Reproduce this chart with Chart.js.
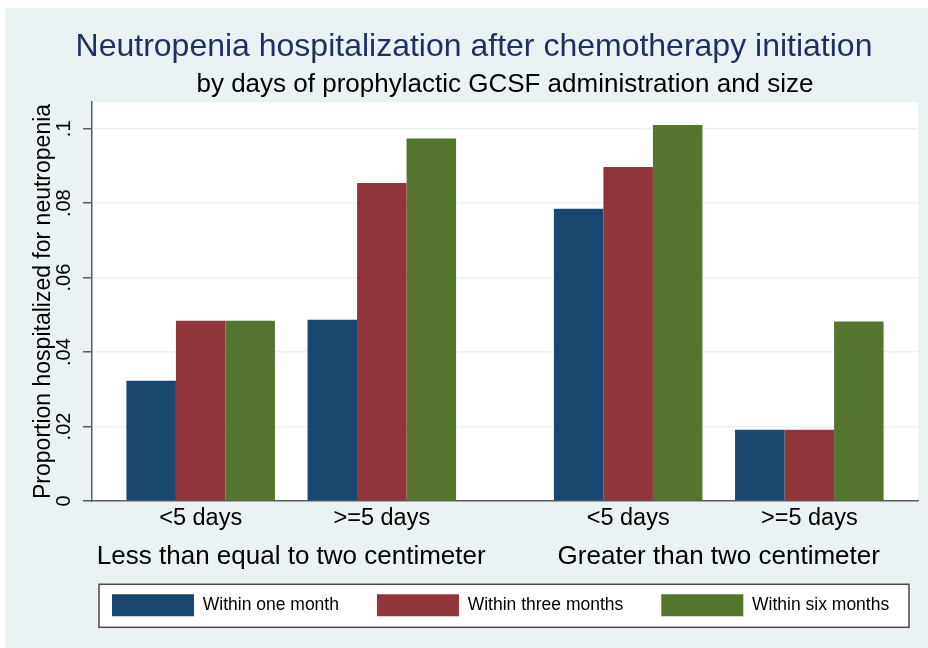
<!DOCTYPE html>
<html lang="en">
<head>
  <meta charset="UTF-8">
  <title>Neutropenia hospitalization after chemotherapy initiation</title>
  <script src="https://cdn.jsdelivr.net/npm/chart.js"></script>
  <style>
    html, body { margin: 0; padding: 0; background: #fff; }
    #wrap { width: 928px; height: 648px; }
  </style>
</head>
<body>
<div id="wrap"><canvas id="grafica" width="928" height="648"></canvas></div>

<script>
// data
const sizeGroups = ["Less than equal to two centimeter", "Greater than two centimeter"];
const dayLabels = ["<5 days", ">=5 days", "<5 days", ">=5 days"];
const seriesNames = ["Within one month", "Within three months", "Within six months"];
const withinOneMonth = [0.0323, 0.0487, 0.0785, 0.0191];
const withinThreeMonths = [0.0484, 0.0854, 0.0897, 0.0191];
const withinSixMonths = [0.0484, 0.0974, 0.1010, 0.0482];
const yTicks = [0, 0.02, 0.04, 0.06, 0.08, 0.1];

// layout: bar groups sit one unit apart, the two size groups are split by a wider gap
const SIZE_GAP = 1.36;
const SIDE = 0.6;
const xPos = dayLabels.map((_, i) => 1 + i + (i >= 2 ? SIZE_GAP - 1 : 0));
const sizeCenters = sizeGroups.map((_, g) => (xPos[g * 2] + xPos[g * 2 + 1]) / 2);

const colores = ["#1a476f", "#90353b", "#55752f"];
const series = [withinOneMonth, withinThreeMonths, withinSixMonths];
const LEG_PAD = 38;

Chart.defaults.font.family = "'Liberation Sans', Arial, sans-serif";
Chart.defaults.color = "#000";

const fondo = {
  id: "fondo",
  beforeDraw(chart) {
    const { ctx, chartArea: a } = chart;
    ctx.save();
    ctx.fillStyle = "#fff";
    ctx.fillRect(0, 0, chart.width, chart.height);
    ctx.fillStyle = "#eaf2f3";
    ctx.fillRect(5, 8, chart.width - 5, chart.height - 8);
    ctx.fillStyle = "#fff";
    ctx.fillRect(a.left, a.top, a.right - a.left, a.bottom - a.top);
    ctx.restore();

    // shift the legend so it is centred under the plot region, and pull it up a bit
    const lg = chart.legend;
    lg.left = a.left - 35.4;
    lg.right = a.right + 26.6;
    lg.top = chart.scales.x2.bottom - 20;
    const top = lg.top + LEG_PAD - 10;
    ctx.save();
    ctx.fillStyle = "#fff";
    ctx.strokeStyle = "#4a4a4a";
    ctx.lineWidth = 1.5;
    ctx.fillRect(a.left + 7, top, a.right - a.left - 16, 43);
    ctx.strokeRect(a.left + 7, top, a.right - a.left - 16, 43);
    ctx.restore();
  }
};

new Chart(document.getElementById("grafica"), {
  type: "bar",
  data: {
    labels: xPos,
    datasets: seriesNames.map((name, i) => ({
      label: name,
      data: series[i],
      backgroundColor: colores[i],
      borderWidth: 0
    }))
  },
  options: {
    responsive: false,
    animation: false,
    categoryPercentage: 0.82,
    barPercentage: 1,
    layout: { padding: { top: 0, left: 30, right: 10, bottom: 1.7 } },
    plugins: {
      title: {
        display: true,
        text: "Neutropenia hospitalization after chemotherapy initiation",
        color: "#1f2f5f",
        font: { size: 32, weight: "normal" },
        padding: { top: 28.3, bottom: 0 }
      },
      subtitle: {
        display: true,
        fullSize: false,
        text: "by days of prophylactic GCSF administration and size",
        color: "#000",
        font: { size: 26 },
        padding: { top: 2.7, bottom: 1.4 }
      },
      legend: {
        position: "bottom",
        labels: {
          boxWidth: 82,
          boxHeight: 22,
          padding: LEG_PAD,
          color: "#000",
          font: { size: 17.5 }
        }
      },
      tooltip: { enabled: false }
    },
    scales: {
      x: {
        type: "linear",
        offset: false,
        min: xPos[0] - SIDE,
        max: xPos[xPos.length - 1] + SIDE,
        grid: { display: false, drawTicks: false },
        border: { display: true, color: "#5c5c5c", width: 1.5 },
        afterBuildTicks: s => { s.ticks = xPos.map(v => ({ value: v })); },
        ticks: {
          padding: 4,
          color: "#000",
          font: { size: 23.5 },
          maxRotation: 0,
          callback: (v, i) => dayLabels[i]
        }
      },
      x2: {
        type: "linear",
        position: "bottom",
        weight: 1,
        offset: false,
        min: xPos[0] - SIDE,
        max: xPos[xPos.length - 1] + SIDE,
        grid: { display: false, drawTicks: false },
        border: { display: false },
        afterBuildTicks: s => { s.ticks = sizeCenters.map(v => ({ value: v })); },
        ticks: {
          padding: 4,
          color: "#000",
          font: { size: 26 },
          maxRotation: 0,
          callback: (v, i) => sizeGroups[i]
        }
      },
      y: {
        min: 0,
        max: 0.1072,
        afterBuildTicks: s => { s.ticks = yTicks.map(v => ({ value: v })); },
        afterFit: s => { s.width = 62; },
        grid: {
          color: "#eaf2f3",
          lineWidth: 1.5,
          drawTicks: true,
          tickLength: 9,
          tickColor: "#5c5c5c",
          tickWidth: 1.5
        },
        border: { display: true, color: "#5c5c5c", width: 1.5 },
        ticks: {
          padding: 5,
          color: "#000",
          font: { size: 20 },
          minRotation: 90,
          maxRotation: 90,
          crossAlign: "center",
          callback: v => v === 0 ? "0" : String(v).replace(/^0/, "")
        },
        title: {
          display: true,
          text: "Proportion hospitalized for neutropenia",
          color: "#000",
          font: { size: 23 },
          padding: { top: 0, bottom: 0 }
        }
      }
    }
  },
  plugins: [fondo]
});
</script>
</body>
</html>
